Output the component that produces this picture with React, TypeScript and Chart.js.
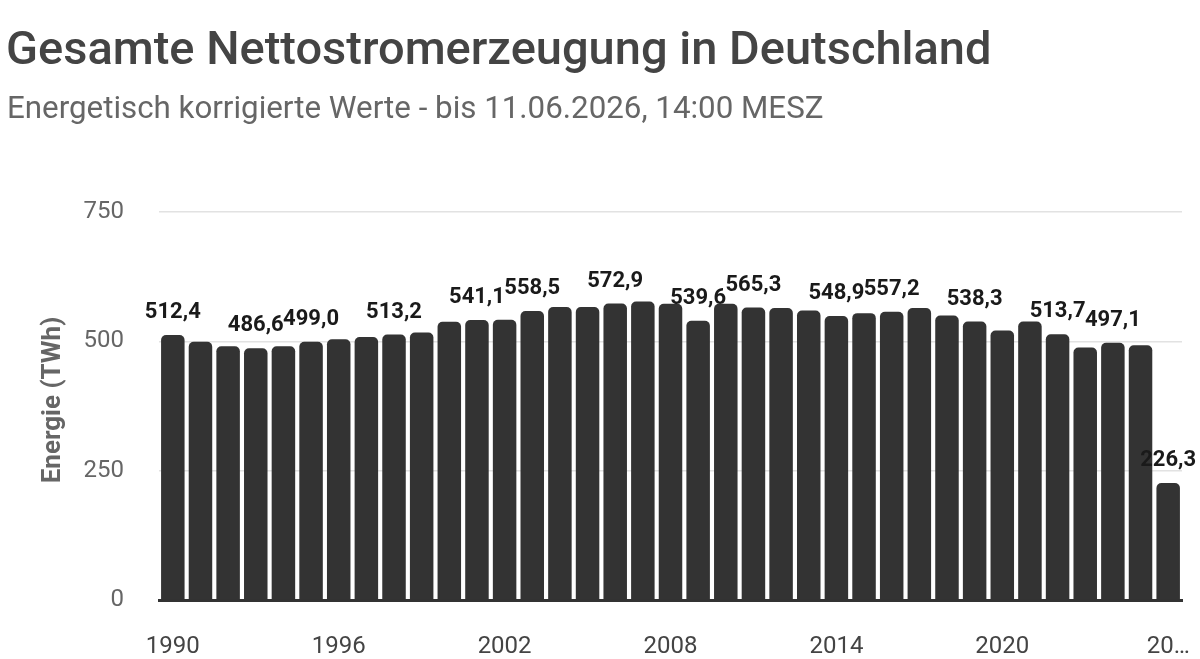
import { useEffect, useRef } from 'react';
import { Chart, registerables } from 'chart.js';

Chart.register(...registerables);

const years = [
  '1990', '1991', '1992', '1993', '1994', '1995', '1996', '1997', '1998', '1999',
  '2000', '2001', '2002', '2003', '2004', '2005', '2006', '2007', '2008', '2009',
  '2010', '2011', '2012', '2013', '2014', '2015', '2016', '2017', '2018', '2019',
  '2020', '2021', '2022', '2023', '2024', '2025', '2026',
];

const values = [
  512.4, 499.0, 490.5, 486.6, 490.5, 499.0, 504.0, 508.5, 513.2, 517.0,
  538.0, 541.1, 541.5, 558.5, 566.5, 566.5, 572.9, 577.0, 572.5, 539.6,
  572.5, 565.3, 564.5, 559.5, 548.9, 554.5, 557.2, 564.5, 550.0, 538.3,
  521.0, 538.3, 513.7, 488.0, 497.1, 492.5, 226.3,
];

const labelledYears = [
  '1990', '1993', '1995', '1998', '2001', '2003', '2006', '2009',
  '2011', '2014', '2016', '2019', '2022', '2024', '2026',
];

const tickYears = ['1990', '1996', '2002', '2008', '2014', '2020'];
const truncatedTickYear = '2026';
const truncatedTickText = '20…';

const yTicks = [0, 250, 500, 750];

const TITLE = 'Gesamte Nettostromerzeugung in Deutschland';
const SUBTITLE = 'Energetisch korrigierte Werte - bis 11.06.2026, 14:00 MESZ';
const Y_TITLE = 'Energie (TWh)';

const FONT = 'Roboto, "Noto Sans", "DejaVu Sans", sans-serif';

export default function App() {
  const ref = useRef<HTMLCanvasElement | null>(null);

  useEffect(() => {
    if (!ref.current) return;

    const valueLabels = {
      id: 'valueLabels',
      afterDatasetsDraw(chart: any) {
        const ctx = chart.ctx;
        const meta = chart.getDatasetMeta(0);
        ctx.save();
        ctx.font = `700 22px ${FONT}`;
        ctx.fillStyle = '#1a1a1a';
        ctx.textAlign = 'center';
        ctx.textBaseline = 'alphabetic';
        meta.data.forEach((bar: any, i: number) => {
          if (!labelledYears.includes(years[i])) return;
          const txt = values[i].toFixed(1).replace('.', ',');
          ctx.fillText(txt, bar.x, bar.y - 17);
        });
        ctx.restore();
      },
    };

    const yAxisTitle = {
      id: 'yAxisTitle',
      afterDraw(chart: any) {
        const ctx = chart.ctx;
        ctx.save();
        ctx.translate(53, 400);
        ctx.rotate(-Math.PI / 2);
        ctx.font = `700 26px ${FONT}`;
        ctx.fillStyle = '#666666';
        ctx.textAlign = 'center';
        ctx.textBaseline = 'middle';
        ctx.fillText(Y_TITLE, 0, 0);
        ctx.restore();
      },
    };

    const chart = new Chart(ref.current, {
      type: 'bar',
      data: {
        labels: years,
        datasets: [
          {
            data: values,
            backgroundColor: '#333333',
            borderRadius: { topLeft: 5, topRight: 5, bottomLeft: 0, bottomRight: 0 },
            borderSkipped: 'bottom',
            barPercentage: 0.85,
            categoryPercentage: 1.0,
          },
        ],
      },
      options: {
        animation: false,
        responsive: true,
        maintainAspectRatio: false,
        layout: { padding: { top: 212, right: 18, left: 0, bottom: 0 } },
        plugins: {
          legend: { display: false },
          tooltip: { enabled: false },
          title: { display: false },
        },
        scales: {
          x: {
            grid: { display: false, drawTicks: false },
            border: { display: true, color: '#333333', width: 3 },
            ticks: {
              autoSkip: false,
              maxRotation: 0,
              minRotation: 0,
              padding: 33,
              color: '#444444',
              font: { family: FONT, size: 24 },
              callback: (_v: any, i: number) => {
                const y = years[i];
                if (y === truncatedTickYear) return truncatedTickText;
                return tickYears.includes(y) ? y : '';
              },
            },
            afterFit: (scale: any) => {
              scale.height = 59;
              scale.paddingLeft = 0;
              scale.paddingRight = 0;
            },
          },
          y: {
            min: 0,
            max: 750,
            afterBuildTicks: (scale: any) => {
              scale.ticks = yTicks.map((v) => ({ value: v }));
            },
            grid: { color: '#e2e2e2', lineWidth: 1.5, drawTicks: false },
            border: { display: false },
            ticks: {
              padding: 35,
              color: '#666666',
              font: { family: FONT, size: 24 },
              callback: (v: any) => String(v),
            },
            afterFit: (scale: any) => {
              scale.width = 159;
              scale.paddingTop = 0;
              scale.paddingBottom = 0;
            },
          },
        },
      },
      plugins: [valueLabels, yAxisTitle],
    });

    return () => chart.destroy();
  }, []);

  return (
    <div
      style={{
        position: 'absolute',
        left: 0,
        top: 0,
        width: 1200,
        height: 659,
        background: '#ffffff',
        overflow: 'hidden',
      }}
    >
      <div style={{ position: 'absolute', left: 0, top: 0, width: 1200, height: 659 }}>
        <canvas ref={ref} />
      </div>
      <div
        style={{
          position: 'absolute',
          left: 6,
          top: 24,
          fontFamily: FONT,
          fontWeight: 500,
          fontSize: 47,
          lineHeight: '47px',
          color: '#444444',
          whiteSpace: 'nowrap',
        }}
      >
        {TITLE}
      </div>
      <div
        style={{
          position: 'absolute',
          left: 7,
          top: 92,
          fontFamily: FONT,
          fontWeight: 400,
          fontSize: 31.3,
          lineHeight: '31px',
          color: '#666666',
          whiteSpace: 'nowrap',
        }}
      >
        {SUBTITLE}
      </div>
    </div>
  );
}
